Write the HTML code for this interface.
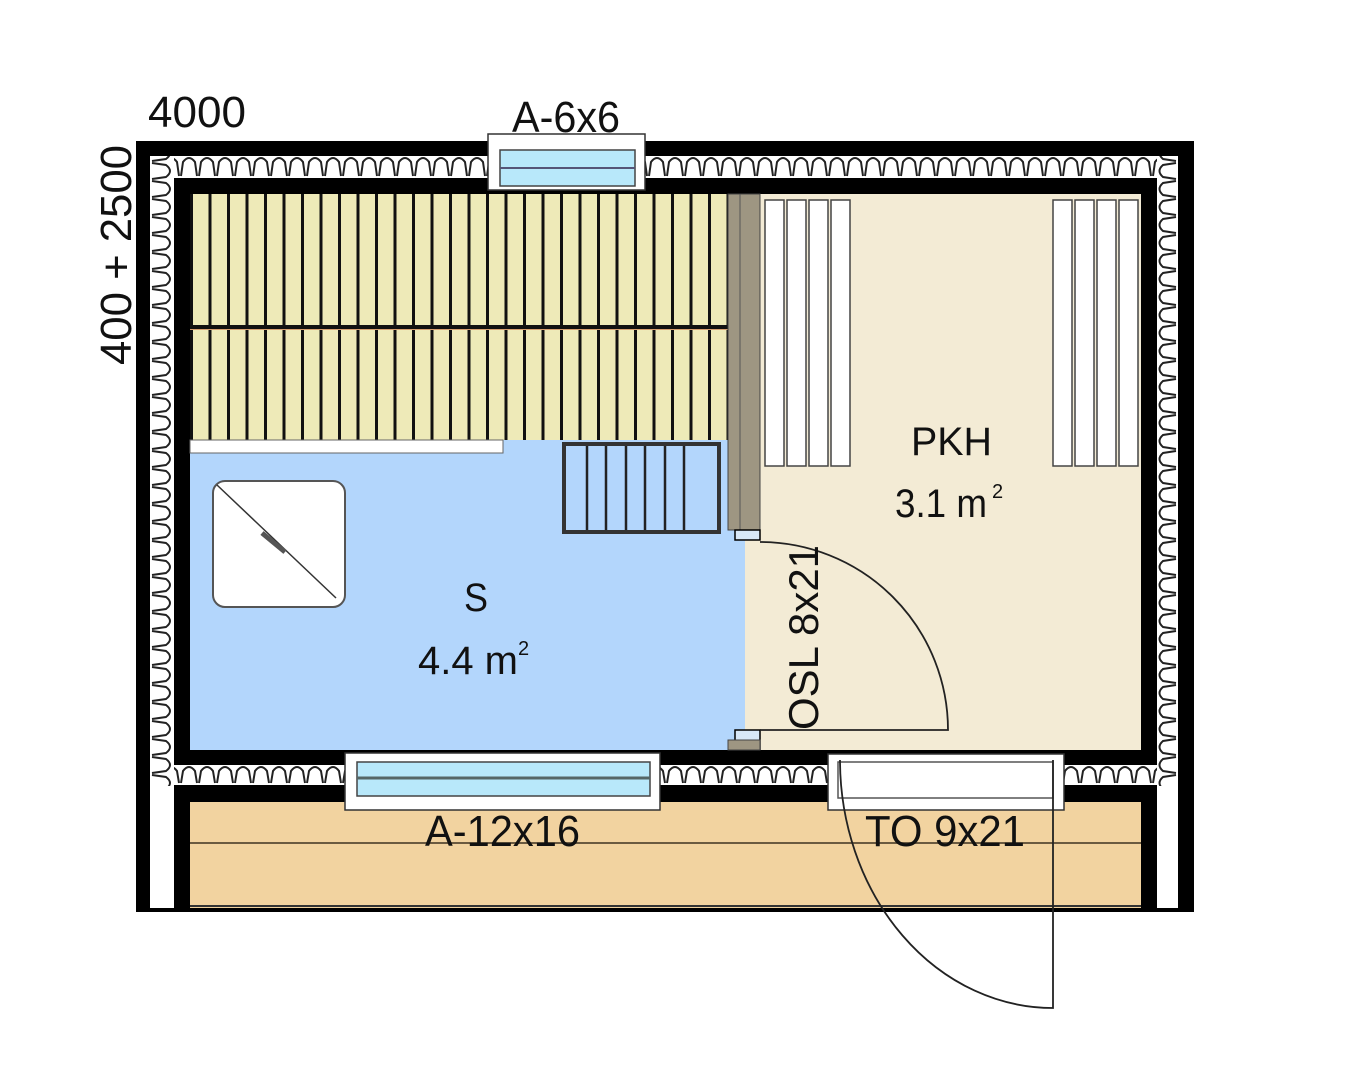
<!DOCTYPE html>
<html><head><meta charset="utf-8"><style>html,body{margin:0;padding:0;background:#fff}svg{display:block}</style></head>
<body>
<svg width="1350" height="1080" viewBox="0 0 1350 1080" xmlns="http://www.w3.org/2000/svg" font-family="Liberation Sans, sans-serif">
<defs>
<pattern id="insH" x="0" y="156" width="18" height="22" patternUnits="userSpaceOnUse">
<rect width="18" height="22" fill="#fff"/>
<path d="M1,20 L3,6 Q9,-2 15,6 L17,20" fill="none" stroke="#222" stroke-width="2"/>
</pattern>
<pattern id="insHb" x="0" y="765" width="18" height="20" patternUnits="userSpaceOnUse">
<rect width="18" height="20" fill="#fff"/>
<path d="M1,18 L3,6 Q9,-2 15,6 L17,18" fill="none" stroke="#222" stroke-width="2"/>
</pattern>
<pattern id="insV" x="150" y="0" width="24" height="18" patternUnits="userSpaceOnUse">
<rect width="24" height="18" fill="#fff"/>
<path d="M2,1 L16,3 Q24,9 16,15 L2,17" fill="none" stroke="#222" stroke-width="2"/>
</pattern>
<pattern id="insVr" x="1157" y="0" width="21" height="18" patternUnits="userSpaceOnUse">
<rect width="21" height="18" fill="#fff"/>
<path d="M19,1 L6,3 Q-1,9 6,15 L19,17" fill="none" stroke="#222" stroke-width="2"/>
</pattern>
<pattern id="slat" x="190" y="0" width="18.5" height="10" patternUnits="userSpaceOnUse">
<rect width="18.5" height="10" fill="#EEEAB8"/>
<rect x="0" width="3" height="10" fill="#111"/>
</pattern>
</defs>

<rect x="136" y="141" width="1058" height="771" fill="#000"/>
<rect x="150" y="156" width="1028" height="22" fill="url(#insH)"/>
<rect x="150" y="156" width="24" height="630" fill="url(#insV)"/>
<rect x="1157" y="156" width="21" height="630" fill="url(#insVr)"/>
<rect x="174" y="765" width="983" height="20" fill="url(#insHb)"/>
<rect x="150" y="786" width="24" height="122" fill="#fff"/>
<rect x="1157" y="786" width="21" height="122" fill="#fff"/>

<rect x="190" y="802" width="951" height="106" fill="#F2D3A0"/>
<line x1="190" y1="843" x2="1141" y2="843" stroke="#6b5a40" stroke-width="2"/>
<line x1="190" y1="906" x2="1141" y2="906" stroke="#333" stroke-width="2"/>

<rect x="745" y="194" width="396" height="556" fill="#F3EBD5"/>
<rect x="190" y="440" width="555" height="310" fill="#B3D6FC"/>
<rect x="190" y="194" width="538" height="246" fill="url(#slat)"/>
<rect x="190" y="325" width="538" height="4" fill="#111"/>
<rect x="190" y="329" width="538" height="1" fill="#d9a070"/>
<rect x="190" y="440" width="313" height="13" fill="#fff" stroke="#666" stroke-width="1"/>
<rect x="728" y="194" width="32" height="336" fill="#9E9682" stroke="#444" stroke-width="1"/>
<line x1="740" y1="194" x2="740" y2="530" stroke="#555" stroke-width="1"/>
<rect x="735" y="530" width="25" height="10" fill="#d8e8f8" stroke="#000" stroke-width="1.5"/>
<rect x="735" y="730" width="25" height="20" fill="#d8e8f8" stroke="#000" stroke-width="1.5"/>
<rect x="728" y="740" width="32" height="10" fill="#9E9682" stroke="#444" stroke-width="1"/>

<rect x="564" y="444" width="155" height="88" fill="#B3D6FC" stroke="#333" stroke-width="4"/>
<g stroke="#222" stroke-width="2.5">
<line x1="587" y1="446" x2="587" y2="530"/><line x1="606" y1="446" x2="606" y2="530"/><line x1="626" y1="446" x2="626" y2="530"/><line x1="645" y1="446" x2="645" y2="530"/><line x1="665" y1="446" x2="665" y2="530"/><line x1="684" y1="446" x2="684" y2="530"/>
</g>

<rect x="213" y="481" width="132" height="126" rx="12" fill="#fff" stroke="#555" stroke-width="2"/>
<line x1="217" y1="485" x2="336" y2="598" stroke="#333" stroke-width="1.5"/>
<line x1="262" y1="533" x2="285" y2="552" stroke="#555" stroke-width="5"/>

<g fill="#fff" stroke="#444" stroke-width="1.5">
<rect x="765" y="200" width="19" height="266"/><rect x="787" y="200" width="19" height="266"/><rect x="809" y="200" width="19" height="266"/><rect x="831" y="200" width="19" height="266"/>
<rect x="1053" y="200" width="19" height="266"/><rect x="1075" y="200" width="19" height="266"/><rect x="1097" y="200" width="19" height="266"/><rect x="1119" y="200" width="19" height="266"/>
</g>

<path d="M760,730 L948,730 A188,188 0 0 0 760,542" fill="none" stroke="#222" stroke-width="1.8"/>

<rect x="488" y="134" width="157" height="56" fill="#fff" stroke="#333" stroke-width="1.5"/>
<rect x="500" y="150" width="135" height="36" fill="#B8E8FA" stroke="#444" stroke-width="1.5"/>
<line x1="500" y1="168" x2="635" y2="168" stroke="#557" stroke-width="2"/>
<rect x="345" y="753" width="315" height="57" fill="#fff" stroke="#333" stroke-width="1.5"/>
<rect x="357" y="762" width="293" height="34" fill="#B8E8FA" stroke="#444" stroke-width="1.5"/>
<line x1="357" y1="778" x2="650" y2="778" stroke="#566" stroke-width="3"/>
<rect x="828" y="754" width="236" height="56" fill="#fff" stroke="#333" stroke-width="1.5"/>
<rect x="838" y="762" width="215" height="36" fill="#fff" stroke="#555" stroke-width="1.5"/>
<path d="M1053,760 L1053,1008 A213,248 0 0 1 840,760" fill="none" stroke="#222" stroke-width="1.8"/>

<g fill="#111" font-size="44">
<text x="148" y="127" textLength="98" lengthAdjust="spacingAndGlyphs">4000</text>
<text x="512" y="132" textLength="108" lengthAdjust="spacingAndGlyphs">A-6x6</text>
<text transform="translate(131,365) rotate(-90)" textLength="220" lengthAdjust="spacingAndGlyphs">400 + 2500</text>
<text x="911" y="455" font-size="40" textLength="81" lengthAdjust="spacingAndGlyphs">PKH</text>
<text x="895" y="517" font-size="40" textLength="92" lengthAdjust="spacingAndGlyphs">3.1 m</text>
<text x="992" y="498" font-size="20">2</text>
<text x="464" y="611" font-size="40" textLength="24" lengthAdjust="spacingAndGlyphs">S</text>
<text x="418" y="674" font-size="40" textLength="100" lengthAdjust="spacingAndGlyphs">4.4 m</text>
<text x="518" y="655" font-size="20">2</text>
<text transform="translate(818,730) rotate(-90)" font-size="42" textLength="185" lengthAdjust="spacingAndGlyphs">OSL 8x21</text>
<text x="425" y="846" textLength="155" lengthAdjust="spacingAndGlyphs">A-12x16</text>
<text x="865" y="846" textLength="160" lengthAdjust="spacingAndGlyphs">TO 9x21</text>
</g>
</svg>
</body></html>
